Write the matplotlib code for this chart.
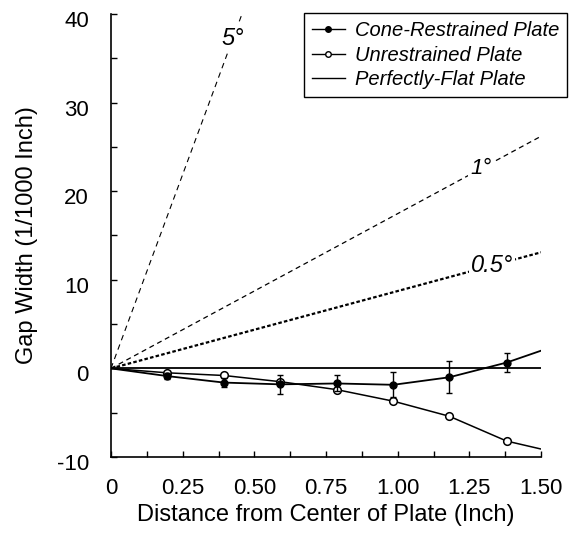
import matplotlib
matplotlib.use("Agg")
import matplotlib.pyplot as plt
import matplotlib.transforms as mtransforms
from matplotlib.lines import Line2D
from matplotlib.ticker import MultipleLocator
import numpy as np

plt.rcParams["font.family"] = ["Liberation Sans", "DejaVu Sans"]
plt.rcParams["axes.unicode_minus"] = False

# distance from plate centre (inch), with the line start and end points
distance = [0.0, 0.197, 0.394, 0.591, 0.788, 0.985, 1.18, 1.38, 1.5]
cone_gap = [0.0, -0.87, -1.6, -1.8, -1.7, -1.85, -1.0, 0.66, 2.0]
cone_err = [0.0, 0.3, 0.5, 1.05, 0.9, 1.4, 1.8, 1.05, 0.0]
free_gap = [0.0, -0.5, -0.8, -1.5, -2.4, -3.7, -5.4, -8.2, -9.1]

flat_x = [0.0, 1.5]
flat_gap = [0.0, 0.0]

# reference tilt lines from the origin
angle_labels = ["0.5°", "1°", "5°"]
angle_end_x = [1.5, 1.5, 0.457]
angle_end_y = [13.1, 26.2, 40.0]

x_ticks = [0, 0.25, 0.5, 0.75, 1.0, 1.25, 1.5]
x_ticklabels = ["0", "0.25", "0.50", "0.75", "1.00", "1.25", "1.50"]
y_ticks = [-10, 0, 10, 20, 30, 40]

fig = plt.figure(figsize=(5.75, 5.47), dpi=100)
ax = fig.add_axes([0.193, 0.1645, 0.748, 0.810])

#
# tilt lines
#
angle_styles = {
    "0.5°": dict(linestyle=(0, (1.6, 1.0)), linewidth=1.6),
    "1°": dict(linestyle=(0, (4.0, 3.0)), linewidth=0.9),
    "5°": dict(linestyle=(0, (5.0, 4.0)), linewidth=0.8),
}
label_x = {"0.5°": 1.33, "1°": 1.29, "5°": 0.425}
label_size = {"0.5°": 17, "1°": 16, "5°": 17}

for name, ex, ey in zip(angle_labels, angle_end_x, angle_end_y):
    ax.plot([0, ex], [0, ey], color="black", zorder=1, **angle_styles[name])
    lx = label_x[name]
    ly = np.interp(lx, [0, ex], [0, ey])
    ax.text(
        lx, ly, name,
        fontsize=label_size[name],
        style="italic",
        ha="center",
        va="center",
        zorder=2,
        bbox=dict(boxstyle="square,pad=0.08", fc="white", ec="none"),
    )

#
# data
#
ax.plot(flat_x, flat_gap, color="black", linewidth=1.3, zorder=3)

ax.plot(
    distance, free_gap,
    color="black", linewidth=1.1,
    marker="o", markersize=5.5,
    markerfacecolor="white", markeredgecolor="black", markeredgewidth=1.1,
    markevery=slice(1, 8),
    zorder=4,
)

ax.plot(
    distance, cone_gap,
    color="black", linewidth=1.3,
    marker="o", markersize=5,
    markerfacecolor="black", markeredgecolor="black",
    markevery=slice(1, 8),
    zorder=5,
)

ax.errorbar(
    distance[1:8], cone_gap[1:8], yerr=cone_err[1:8],
    fmt="none", ecolor="black", elinewidth=1.0,
    capsize=2.5, capthick=1.0, zorder=5,
)

#
# axes
#
ax.set_xlim(0, 1.5)
ax.set_ylim(-10, 40)
ax.spines["top"].set_visible(False)
ax.spines["right"].set_visible(False)
ax.spines["left"].set_linewidth(1.2)
ax.spines["bottom"].set_linewidth(1.2)

ax.set_xticks(x_ticks)
ax.set_xticklabels(x_ticklabels)
ax.xaxis.set_minor_locator(MultipleLocator(0.125))
ax.set_yticks(y_ticks)
ax.yaxis.set_minor_locator(MultipleLocator(5))

ax.tick_params(axis="both", which="both", direction="in", length=4, width=1.0)
ax.tick_params(axis="x", which="major", labelsize=16, pad=15)
ax.tick_params(axis="y", which="major", labelsize=16, pad=16)

offset = mtransforms.ScaledTranslation(0, -5 / 100, fig.dpi_scale_trans)
for label in ax.get_yticklabels():
    label.set_transform(label.get_transform() + offset)

ax.set_xlabel("Distance from Center of Plate (Inch)", fontsize=17)
ax.set_ylabel("Gap Width (1/1000 Inch)", fontsize=17)
ax.xaxis.set_label_coords(0.5, -0.105)
ax.yaxis.set_label_coords(-0.17, 0.5)

legend_elements = [
    Line2D([0], [0], color="black", linewidth=1.0, marker="o", markersize=4,
           markerfacecolor="black", label="Cone-Restrained Plate"),
    Line2D([0], [0], color="black", linewidth=1.0, marker="o", markersize=4,
           markerfacecolor="white", label="Unrestrained Plate"),
    Line2D([0], [0], color="black", linewidth=1.0, label="Perfectly-Flat Plate"),
]

leg = ax.legend(
    handles=legend_elements,
    loc="upper right",
    bbox_to_anchor=(567 / 575, 1 - 13 / 547),
    bbox_transform=fig.transFigure,
    fancybox=False,
    framealpha=1,
    edgecolor="black",
    handlelength=1.6,
    handletextpad=0.5,
    labelspacing=0.28,
    borderpad=0.4,
    borderaxespad=0,
    prop=dict(size=14.5, style="italic"),
)
leg.get_frame().set_linewidth(1.0)
leg.set_zorder(10)

fig.savefig("out.png", dpi=100)
